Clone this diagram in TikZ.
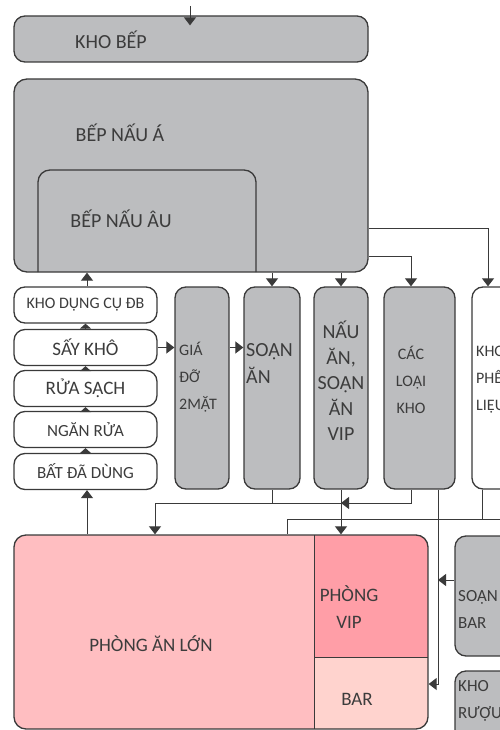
\documentclass[tikz,border=0pt]{standalone}
\usepackage{fontspec}
\setmainfont{Carlito}
\usetikzlibrary{arrows.meta}
\definecolor{ink}{HTML}{3A3A3A}
\definecolor{txt}{HTML}{3C3C3C}
\definecolor{boxgray}{HTML}{BCBDBF}
\definecolor{roompink}{HTML}{FFBEC1}
\definecolor{vippink}{HTML}{FF9EA7}
\definecolor{barpink}{HTML}{FFD3CE}
\begin{document}
\begin{tikzpicture}[x=1pt, y=-1pt,
  box/.style={draw=ink, line width=1.3pt, fill=boxgray, rounded corners=11pt, inner sep=0pt, text=txt},
  wbox/.style={box, fill=white},
  lbl/.style={inner sep=0pt, text=txt, font=\fontsize{#1}{27}\selectfont},
  ln/.style={draw=ink, line width=1pt},
  arr/.style={ln, -{Triangle[width=12pt,length=8pt]}},
  sarr/.style={ln, -{Triangle[width=11pt,length=5pt]}}]
\useasboundingbox (0,0) rectangle (500,730);
\clip (0,0) rectangle (500,730);

%kitchen
\node[box, minimum width=354pt, minimum height=46pt] (khobep) at (191,39) {};
\node[lbl=20] (lkhobep) at (111,40) {KHO BẾP};
\node[box, rounded corners=13pt, minimum width=354pt, minimum height=193pt] (bepA) at (191,175.5) {};
\draw[ink, line width=1.3pt, rounded corners=12pt] (38,272) -- (38,170) -- (256,170) -- (256,272);
\node[lbl=20] (lbepA) at (120,133) {BẾP NẤU Á};
\node[lbl=20] (lbepAu) at (121,219) {BẾP NẤU ÂU};

%dish line
\foreach \n/\y/\t/\s in {kdc/305/KHO DỤNG CỤ ĐB/16, say/347.5/SẤY KHÔ/19, rua/388.5/RỬA SẠCH/19, ngan/429.5/NGĂN RỬA/17, bat/471.5/BẤT ĐÃ DÙNG/17}
  \node[wbox, minimum width=143pt, minimum height=36pt, font=\fontsize{\s}{20}\selectfont] (\n) at (85.5,\y) {\t};
\foreach \a/\b in {bat/ngan, ngan/rua, rua/say, say/kdc}
  \draw[sarr] (\a.north) -- (\b.south);

%columns
\node[box, minimum width=54pt, minimum height=202pt] (gia) at (202,388) {};
\node[box, minimum width=56pt, minimum height=202pt] (soan) at (272,388) {};
\node[box, minimum width=54pt, minimum height=202pt] (vip) at (341,388) {};
\node[box, minimum width=71pt, minimum height=202pt] (kho) at (419.5,388) {};
\node[wbox, minimum width=58pt, minimum height=202pt] (phelieu) at (501,388) {};
\node[lbl=16, anchor=west, align=left] (lgia) at (179,377) {GIÁ\\ĐỠ\\2MẶT};
\node[lbl=20, anchor=west, align=left] (lsoan) at (246,364) {SOẠN\\ĂN};
\node[lbl=20, font=\fontsize{20}{25.5}\selectfont, align=center] (lvip) at (341,381) {NẤU\\ĂN,\\SOẠN\\ĂN\\VIP};
\node[lbl=16, align=center] (lkho) at (411,380) {CÁC\\LOẠI\\KHO};
\node[lbl=16, anchor=west, align=left] (lphelieu) at (476,380) {KHO\\PHẾ\\LIỆU};

%dining
\begin{scope}
\clip[rounded corners=12pt] (14,535) rectangle (428,729);
\fill[roompink] (14,535) rectangle (428,729);
\fill[vippink] (314,535) rectangle (428,657);
\fill[barpink] (314,657) rectangle (428,729);
\end{scope}
\draw[ln] (314,535) -- (314,729) (314,657) -- (428,657);
\node[draw=ink, line width=1.3pt, rounded corners=12pt, minimum width=414pt, minimum height=194pt, inner sep=0pt] (phong) at (221,632) {};
\node[lbl=19] (lphong) at (151,644) {PHÒNG ĂN LỚN};
\node[lbl=19, align=center] (lphongvip) at (349,607) {PHÒNG\\VIP};
\node[lbl=19] (lbar) at (357,699) {BAR};
\node[box, minimum width=76pt, minimum height=120pt] (soanbar) at (493,596) {};
\node[box, minimum width=76pt, minimum height=100pt] (khoruou) at (493,721) {};
\node[lbl=17, anchor=west, align=left] (lsoanbar) at (458,609) {SOẠN\\BAR};
\node[lbl=17, anchor=west, align=left] (lkhoruou) at (458,701) {KHO\\RƯỢU};

%flows
\coordinate (in) at (190,6);
\coordinate (j1) at (341,503);
\draw[arr] (in) -- ([yshift=-10pt]khobep.north -| in);
\draw[arr] (soan.north |- bepA.south) -- (soan.north);
\draw[arr] (vip.north |- bepA.south) -- (vip.north);
\draw[arr] (bepA.east |- 0,256) -| ([xshift=-8.5pt]kho.north);
\draw[arr] (bepA.east |- 0,228) -| ([xshift=-13pt]phelieu.north);
\draw[arr] ([xshift=1.5pt]kdc.north) -- ([xshift=1.5pt]kdc.north |- bepA.south);
\draw[arr] ([xshift=1.5pt]bat.south |- phong.north) -- ([xshift=1.5pt]bat.south);
\draw[arr] (say.east) -- (say.east -| gia.west);
\draw[arr] (say.east -| gia.east) -- (say.east -| soan.west);
\draw[ln] (soan.south) -- (soan.south |- j1);
\draw[arr] ([xshift=-8.5pt]kho.south) |- (j1);
\draw[arr] (j1) -| (phong.north -| 155,0);
\draw[arr] (vip.south) -- (vip.south |- phong.north);
\draw[ln] ([xshift=-19pt]phelieu.south) -- (482,519);
\draw[ln] (500,519) -| (phong.north -| 287,0);
\draw[arr] (kho.south -| 438,0) |- (phong.east |- 0,684);
\draw[arr] (soanbar.west |- 0,580) -- (438,580);
\end{tikzpicture}
\end{document}
